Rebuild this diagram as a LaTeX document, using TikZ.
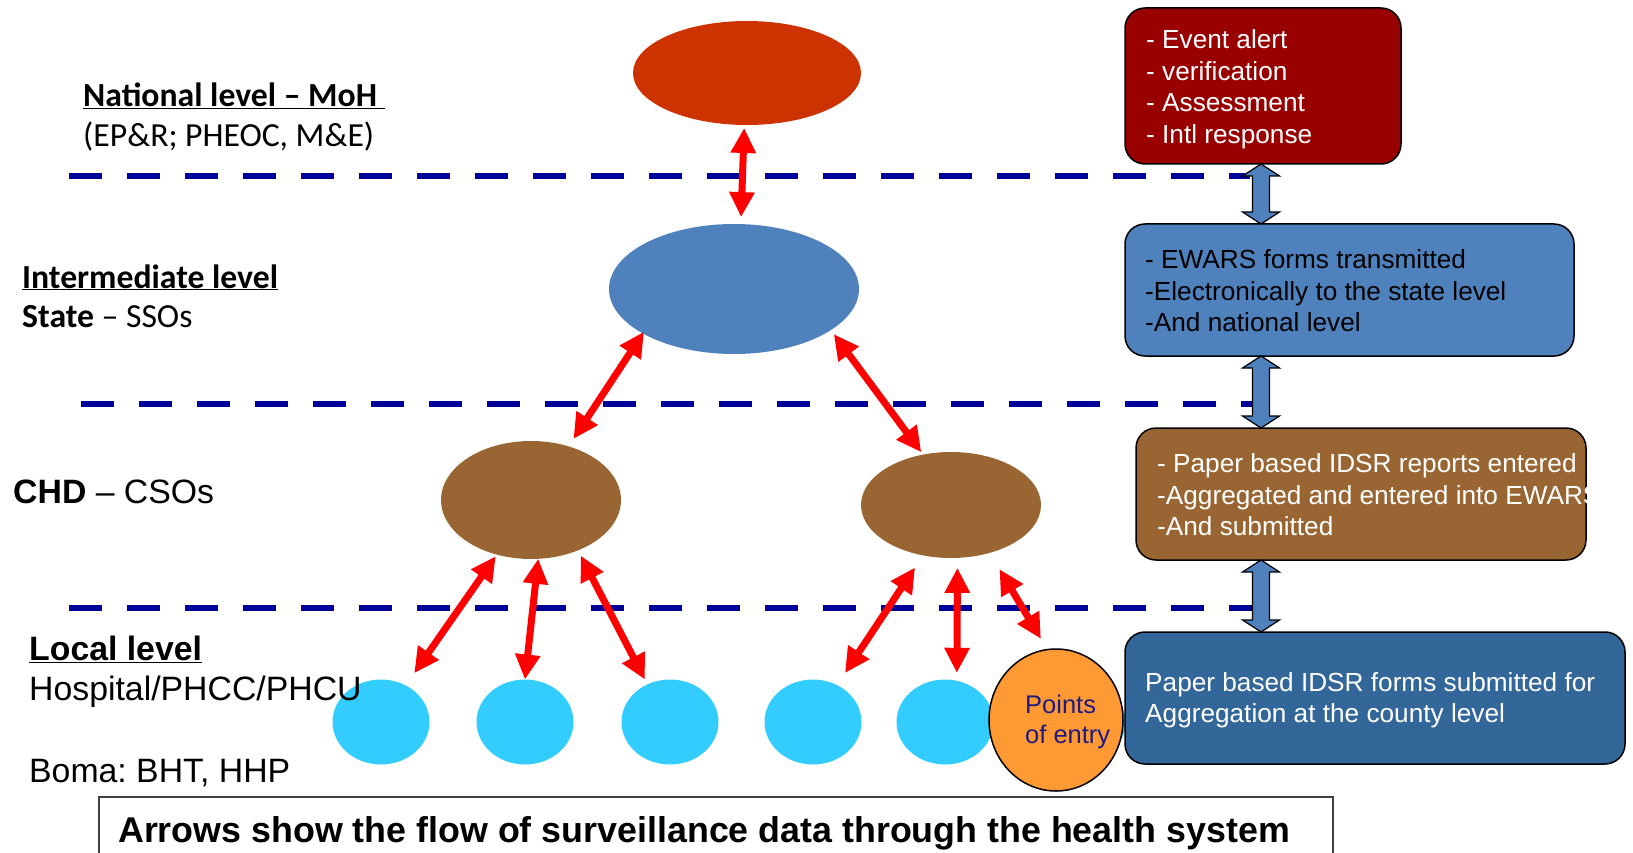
\documentclass[tikz,border=0pt]{standalone}
\usepackage{fontspec}
\setmainfont{Liberation Sans}
\newfontfamily\calibri{Carlito}
\usetikzlibrary{arrows.meta,shapes.geometric,calc}
\frenchspacing
\definecolor{natred}{HTML}{CC3300}
\definecolor{stateblue}{HTML}{4F81BD}
\definecolor{chdbrown}{HTML}{996633}
\definecolor{localblue}{HTML}{33CCFF}
\definecolor{poeorange}{HTML}{FF9933}
\definecolor{darkred}{HTML}{990000}
\definecolor{darkbox}{HTML}{336699}
\definecolor{dashblue}{HTML}{000099}
\definecolor{arrowred}{HTML}{FF0000}
\definecolor{poetext}{HTML}{1F1A80}
\newcommand\blockdbl[2]{%
  \path[fill=stateblue, draw=black, line width=1.2pt] let \p1=(#1), \p2=(#2) in
    (\x1,\y1) -- (\x1+18.5pt,\y1-12pt) -- (\x1+8.5pt,\y1-12pt) -- (\x1+8.5pt,\y2+12pt)
    -- (\x1+18.5pt,\y2+12pt) -- (\x1,\y2) -- (\x1-18.5pt,\y2+12pt) -- (\x1-8.5pt,\y2+12pt)
    -- (\x1-8.5pt,\y1-12pt) -- (\x1-18.5pt,\y1-12pt) -- cycle;}
\begin{document}
\frenchspacing
\begin{tikzpicture}[x=1pt,y=-1pt,
  levelline/.style={draw=dashblue, line width=6pt, dash pattern=on 33pt off 25pt},
  flow/.style={draw=arrowred, line width=7pt, >={Triangle[width=24pt,length=25pt]}, <->},
  ell/.style={ellipse, inner sep=0pt, outer sep=0pt},
  localell/.style={ell, fill=localblue, minimum width=97pt, minimum height=85pt},
  infobox/.style={rectangle, rounded corners=20pt, draw=black, line width=1.5pt, inner sep=0pt, outer sep=0pt},
  boxtext/.style={anchor=west, align=left, inner sep=0pt, font=\fontsize{26.2}{31.5}\selectfont},
  lbl/.style={anchor=base west, inner sep=0pt},
  calfont/.style={font=\calibri\fontsize{33.7}{40}\selectfont},
  calbold/.style={font=\calibri\bfseries\fontsize{33.7}{40}\selectfont},
  arialbig/.style={font=\fontsize{33.8}{40}\selectfont},
  arialbold/.style={font=\bfseries\fontsize{33.8}{40}\selectfont},
]
\useasboundingbox (0,0) rectangle (1633,853);
\begin{scope}
\clip (0,0) rectangle (1633,853);
% level separators
\draw[levelline] (69,176) -- (1250,176);
\draw[levelline] (81,404) -- (1253,404);
\draw[levelline] (69,608) -- (1253,608);
% hierarchy ellipses
\node[ell, fill=natred, minimum width=228pt, minimum height=104pt] (nat) at (747,73) {};
\node[ell, fill=stateblue, minimum width=250pt, minimum height=130pt] (state) at (734,289) {};
\node[ell, fill=chdbrown, minimum width=180pt, minimum height=118pt] (chd1) at (531,500) {};
\node[ell, fill=chdbrown, minimum width=180pt, minimum height=106pt] (chd2) at (951,505) {};
\node[localell] (l1) at (381,722) {};
\node[localell] (l2) at (525,722) {};
\node[localell] (l3) at (670,722) {};
\node[localell] (l4) at (813,722) {};
\node[localell] (l5) at (945,722) {};
\node[localell] (l6) at (1077,722) {};
\node[ell, fill=poeorange, draw=black, line width=1.5pt, minimum width=134pt, minimum height=142pt] (poe) at (1056,720) {};
\node[anchor=west, align=left, inner sep=0pt, text=poetext, font=\fontsize{25.5}{30}\selectfont] (poetxt) at (1025,722) {Points\\of entry};
% left labels
\node[lbl, calbold] (natlbl) at (83,107) {\underline{National level – MoH\ }};
\node[lbl, calfont] (natsub) at (83,147) {(EP\&R; PHEOC, M\&E)};
\node[lbl, calbold] (intlbl) at (22,288) {\underline{Intermediate level}};
\node[lbl, calfont] (statelbl) at (22,327) {\textbf{State} – SSOs};
\node[lbl, arialbig] (chdlbl) at (13,503) {\textbf{CHD} – CSOs};
\node[lbl, arialbold] (loclbl) at (29,660) {\underline{Local level}};
\node[lbl, arialbig] (hosplbl) at (29,700) {Hospital/PHCC/PHCU};
\node[lbl, arialbig] (bomalbl) at (29,782) {Boma:\ BHT, HHP};
% flow arrows
\draw[flow, shorten <=3pt, shorten >=7pt] (nat.-93) -- (state.84);
\draw[flow, shorten <=-2pt, shorten >=9pt] (state.206) -- (chd1.55.5);
\draw[flow, shorten <=5pt, shorten >=3pt] (state.-23) -- (chd2.119.5);
\draw[flow, shorten <=2pt, shorten >=15pt] (chd1.-122) -- (l1.56);
\draw[flow] (chd1.-83) -- (l2.north);
\draw[flow, shorten <=6pt, shorten >=5.5pt] (chd1.-47.7) -- (l3.121.8);
\draw[flow, shorten <=14.5pt, shorten >=14.5pt] (chd2.-119) -- (l4.57);
\draw[flow, shorten <=10pt, shorten >=8pt] (chd2.-83.7) -- (l5.74);
\draw[flow, shorten <=19pt, shorten >=12.6pt] (chd2.-51.6) -- (poe.97);
% right information boxes
\coordinate (ax) at (1261,0);
\node[infobox, fill=darkred, minimum width=276pt, minimum height=156pt] (redbox) at (1263,86) {};
\node[infobox, fill=stateblue, minimum width=449pt, minimum height=132pt] (bluebox) at (1349.5,290) {};
\node[infobox, fill=chdbrown, minimum width=450pt, minimum height=132pt] (brownbox) at (1361,494) {};
\node[infobox, fill=darkbox, minimum width=500pt, minimum height=132pt] (darkbox) at (1375,698) {};
\node[boxtext, text=white] (redtxt) at ($(redbox.west)+(21,3)$) {- Event alert\\- verification\\- Assessment\\- Intl response};
\node[boxtext, text=black] (bluetxt) at ($(bluebox.west)+(20,1)$) {- EWARS forms transmitted\\-Electronically to the state level\\-And national level};
\begin{scope}
\clip (1136,428) rectangle (1589,560);
\node[boxtext, text=white] (browntxt) at ($(brownbox.west)+(21,1)$) {- Paper based IDSR reports entered\\-Aggregated and entered into EWARS\\-And submitted};
\end{scope}
\node[boxtext, text=white] (darktxt) at ($(darkbox.west)+(20,2)$) {Paper based IDSR forms submitted for\\Aggregation at the county level};
\blockdbl{redbox.south -| ax}{bluebox.north -| ax}
\blockdbl{bluebox.south -| ax}{brownbox.north -| ax}
\blockdbl{brownbox.south -| ax}{darkbox.north -| ax}
% caption
\node[draw=black!75, line width=1.5pt, anchor=north west, minimum width=1234pt, minimum height=110pt, inner sep=0pt] (capbox) at (98,796) {};
\node[lbl, font=\bfseries\fontsize{35.8}{43}\selectfont] (captext) at (118,842) {Arrows show the flow of surveillance data through the health system};
\end{scope}
\end{tikzpicture}
\end{document}
